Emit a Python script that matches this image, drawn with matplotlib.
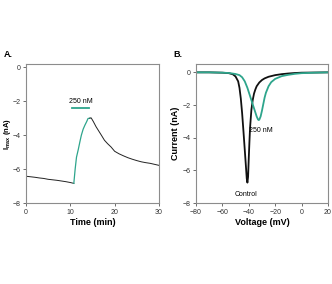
import matplotlib

matplotlib.use("Agg")
import matplotlib.pyplot as plt

# panel A: I_max vs time
t_base = [0, 1, 2, 3, 4, 5, 6, 7, 8, 9, 10, 10.8]
i_base = [-6.42, -6.45, -6.48, -6.52, -6.55, -6.6, -6.63, -6.66, -6.7, -6.74, -6.79, -6.84]
t_drug = [10.8, 11.1, 11.4, 11.8, 12.2, 12.5, 12.9, 13.3, 13.7, 14.0, 14.4]
i_drug = [-6.84, -6.0, -5.3, -4.85, -4.35, -4.0, -3.65, -3.41, -3.2, -3.02, -3.0]
t_wash = [14.4, 14.7, 15.2, 15.8, 16.4, 17.0, 17.7, 18.4, 19.2, 20.0, 21.0, 22.0, 23.0,
          24.0, 25.0, 26.0, 27.0, 28.0, 29.0, 30.0]
i_wash = [-3.0, -2.98, -3.2, -3.5, -3.75, -4.0, -4.3, -4.5, -4.7, -4.95, -5.1, -5.22, -5.33,
          -5.42, -5.5, -5.57, -5.62, -5.66, -5.72, -5.78]
bar_t = [10.4, 14.2]
bar_i = -2.42

# panel B: current vs voltage
v_ctrl = [-80, -70, -60, -55, -52, -50, -48, -47, -46, -45, -44, -43, -42, -41.5, -41, -40.5,
          -40, -39.5, -39, -38, -37, -36, -35, -34, -32, -30, -28, -25, -20, -15, -10, -5, 0, 10, 20]
i_ctrl = [0, 0, -0.02, -0.05, -0.12, -0.25, -0.55, -0.95, -1.6, -2.5, -3.6, -4.75, -5.9, -6.5,
          -6.75, -6.4, -5.3, -4.3, -3.4, -2.3, -1.7, -1.3, -1.05, -0.85, -0.62, -0.47, -0.37, -0.27,
          -0.17, -0.11, -0.07, -0.04, -0.02, -0.01, 0]
v_drug = [-80, -70, -60, -55, -50, -47, -45, -43, -41, -39, -37, -35, -34, -33, -32.5, -32, -31,
          -30, -29, -28, -27, -25, -23, -20, -15, -10, -5, 0, 10, 20]
i_drug_iv = [0, 0, -0.02, -0.04, -0.1, -0.17, -0.3, -0.55, -0.95, -1.45, -1.95, -2.45, -2.7,
             -2.88, -2.92, -2.9, -2.7, -2.35, -1.95, -1.55, -1.25, -0.85, -0.6, -0.4, -0.23,
             -0.15, -0.09, -0.05, -0.02, 0]

TEAL = "#2ea58c"
SPINE = "#8c8c8c"
plt.rcParams["font.family"] = ["Liberation Sans", "DejaVu Sans"]
plt.rcParams["mathtext.fontset"] = "custom"
plt.rcParams["mathtext.bf"] = "Liberation Sans:bold"
plt.rcParams["mathtext.rm"] = "Liberation Sans"


def style_axes(ax):
    for s in ax.spines.values():
        s.set_color(SPINE)
        s.set_linewidth(0.8)
    ax.tick_params(direction="out", length=2.5, width=0.6, color="#555555",
                   labelsize=5, pad=1.5, labelcolor="#333333")


fig = plt.figure(figsize=(3.32, 2.84), dpi=100)
axa = fig.add_axes([0.078, 0.285, 0.401, 0.489])
axb = fig.add_axes([0.590, 0.285, 0.398, 0.489])

axa.plot(t_base, i_base, color="#222222", lw=0.7)
axa.plot(t_drug, i_drug, color=TEAL, lw=0.9)
axa.plot(t_wash, i_wash, color="#222222", lw=0.7)
axa.plot(bar_t, [bar_i, bar_i], color=TEAL, lw=1.3)
axa.text(sum(bar_t) / 2, bar_i + 0.18, "250 nM", fontsize=5, ha="center", va="bottom")
axa.set_xlim(0, 30)
axa.set_ylim(-8, 0.18)
axa.set_xticks([0, 10, 20, 30])
axa.set_yticks([0, -2, -4, -6, -8])
axa.set_xlabel("Time (min)", fontsize=6.5, fontweight="bold", labelpad=2)
axa.set_ylabel(r"$\mathbf{I_{max}}$ (nA)", fontsize=5.5, fontweight="bold")
axa.yaxis.set_label_coords(-0.095, 0.5)
style_axes(axa)

axb.plot(v_ctrl, i_ctrl, color="#111111", lw=1.3)
axb.plot(v_drug, i_drug_iv, color=TEAL, lw=1.3)
axb.text(-30.5, -3.55, "250 nM", fontsize=5, ha="center", va="center")
axb.text(-42, -7.45, "Control", fontsize=5, ha="center", va="center")
axb.set_xlim(-80, 20)
axb.set_ylim(-8, 0.5)
axb.set_xticks([-80, -60, -40, -20, 0, 20])
axb.set_yticks([0, -2, -4, -6, -8])
axb.set_xlabel("Voltage (mV)", fontsize=6.5, fontweight="bold", labelpad=2)
axb.set_ylabel("Current (nA)", fontsize=6.5, fontweight="bold")
axb.yaxis.set_label_coords(-0.12, 0.5)
style_axes(axb)

fig.text(0.012, 0.80, "A.", fontsize=6.5, fontweight="bold")
fig.text(0.522, 0.80, "B.", fontsize=6.5, fontweight="bold")

fig.savefig("out.png", dpi=100)
plt.close(fig)
